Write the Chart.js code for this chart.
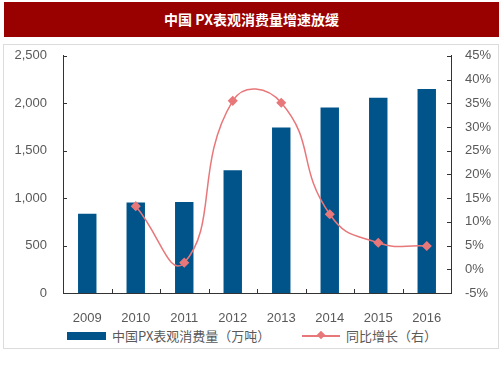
<!DOCTYPE html>
<html>
<head>
<meta charset="utf-8">
<script src="https://cdn.jsdelivr.net/npm/chart.js@4"></script>
<style>
  body { margin: 0; background: #fff; width: 503px; height: 378px; position: relative; overflow: hidden;
         font-family: "Liberation Sans", "Noto Sans CJK SC", sans-serif; }
  .title { position: absolute; left: 4px; top: 2px; width: 495px; height: 35px; background: #990000;
           color: #fff; font: bold 14px "Noto Sans CJK SC", serif; text-align: center; line-height: 35px; }
  .box { position: absolute; left: 3px; top: 44px; width: 494px; height: 303px; border: 1px solid #dcdcdc; }
  .chart-wrap { position: absolute; left: 0; top: 32px; width: 503px; height: 292px; }
  .legend { position: absolute; top: 327px; left: 0; width: 503px; height: 18px; font: 13px "Noto Sans CJK SC", sans-serif; color: #595959; }
  .legend span { position: absolute; white-space: nowrap; }
</style>
</head>
<body>
<div class="title">中国 PX表观消费量增速放缓</div>
<div class="box"></div>
<div class="chart-wrap"><canvas id="chart" width="503" height="292"></canvas></div>
<div class="legend">
  <span style="left:67px; top:5px; width:39px; height:8px; background:#00548A;"></span>
  <span style="left:112px; top:0; line-height:18px;">中国PX表观消费量（万吨）</span>
  <span style="left:302px; top:8px; width:38px; height:1.5px; background:#E8777A;"></span>
  <span style="left:318px; top:5px; width:6px; height:6px; background:#E8777A; transform:rotate(45deg);"></span>
  <span style="left:346px; top:0; line-height:18px;">同比增长（右）</span>
</div>

<script>
// data
const years = ['2009', '2010', '2011', '2012', '2013', '2014', '2015', '2016'];
const consumption = [835, 953, 960, 1295, 1745, 1955, 2058, 2150];
const growth = [null, 13.3, 1.4, 35.5, 35.1, 11.6, 5.6, 4.9];

const barColor = '#00548A';
const lineColor = '#E8777A';
const axisColor = '#333333';
const labelColor = '#595959';

// little tick marks pointing into the plot
const innerTicks = {
  id: 'innerTicks',
  afterDraw(chart) {
    const { ctx, chartArea, scales } = chart;
    ctx.save();
    ctx.strokeStyle = axisColor;
    ctx.lineWidth = 1;
    ctx.beginPath();
    scales.y.ticks.forEach((t) => {
      const py = Math.round(scales.y.getPixelForValue(t.value)) + 0.5;
      ctx.moveTo(chartArea.left, py);
      ctx.lineTo(chartArea.left + 4, py);
    });
    scales.y2.ticks.forEach((t) => {
      const py = Math.round(scales.y2.getPixelForValue(t.value)) + 0.5;
      ctx.moveTo(chartArea.right, py);
      ctx.lineTo(chartArea.right - 4, py);
    });
    for (let i = 0; i < years.length - 1; i++) {
      const px = Math.round((scales.x.getPixelForValue(i) + scales.x.getPixelForValue(i + 1)) / 2) + 0.5;
      ctx.moveTo(px, chartArea.bottom);
      ctx.lineTo(px, chartArea.bottom - 4);
    }
    ctx.stroke();
    ctx.restore();
  }
};

new Chart(document.getElementById('chart'), {
  data: {
    labels: years,
    datasets: [
      {
        type: 'line',
        label: '同比增长（右）',
        data: growth,
        yAxisID: 'y2',
        borderColor: lineColor,
        backgroundColor: lineColor,
        borderWidth: 1.5,
        tension: 0.5,
        pointStyle: 'rectRot',
        pointRadius: 4,
        pointHoverRadius: 4,
        spanGaps: true,
        order: 0
      },
      {
        type: 'bar',
        label: '中国PX表观消费量（万吨）',
        data: consumption,
        yAxisID: 'y',
        backgroundColor: barColor,
        barPercentage: 0.76,
        categoryPercentage: 0.5,
        order: 1
      }
    ]
  },
  options: {
    responsive: false,
    animation: false,
    layout: { padding: { top: 11, left: 0, right: 0, bottom: 0 } },
    plugins: { legend: { display: false }, tooltip: { enabled: false } },
    scales: {
      x: {
        grid: { display: false },
        border: { display: true, color: axisColor, width: 1 },
        ticks: { color: labelColor, font: { family: 'Liberation Sans', size: 13 }, padding: 10 },
        afterFit(scale) { scale.height = 31; }
      },
      y: {
        position: 'left',
        min: 0,
        max: 2500,
        grid: { display: false, drawTicks: false },
        border: { display: true, color: axisColor, width: 1 },
        ticks: {
          stepSize: 500,
          color: labelColor,
          font: { family: 'Liberation Sans', size: 13 },
          padding: 16,
          callback: (v) => v.toLocaleString('en-US')
        },
        afterFit(scale) { scale.width = 63; }
      },
      y2: {
        position: 'right',
        min: -5,
        max: 45,
        grid: { display: false, drawTicks: false },
        border: { display: true, color: axisColor, width: 1 },
        ticks: {
          stepSize: 5,
          color: labelColor,
          font: { family: 'Liberation Sans', size: 13 },
          padding: 14,
          callback: (v) => v + '%'
        },
        afterFit(scale) { scale.width = 52; }
      }
    }
  },
  plugins: [innerTicks]
});
</script>
</body>
</html>
